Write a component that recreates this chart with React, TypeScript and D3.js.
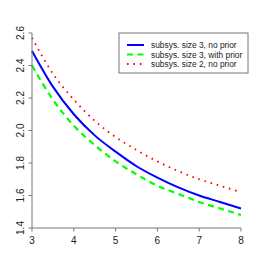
import React from "react";
import * as d3 from "d3";

const xs = [3, 3.5, 4, 4.5, 5, 5.5, 6, 6.5, 7, 7.5, 8];
const blueVals = [2.49, 2.27, 2.10, 1.97, 1.87, 1.78, 1.71, 1.65, 1.60, 1.56, 1.52];
const greenVals = [2.40, 2.19, 2.03, 1.91, 1.81, 1.73, 1.66, 1.61, 1.56, 1.52, 1.48];
const redVals = [2.57, 2.35, 2.19, 2.06, 1.96, 1.88, 1.81, 1.75, 1.70, 1.66, 1.62];
const xTicks = [3, 4, 5, 6, 7, 8];
const yTicks = [1.4, 1.6, 1.8, 2.0, 2.2, 2.4, 2.6];
const seriesNames = ["subsys. size 3, no prior", "subsys. size 3, with prior", "subsys. size 2, no prior"];

export default function App() {
  const W = 266, H = 268;
  const x = d3.scaleLinear().domain([3, 8]).range([32, 241]);
  const y = d3.scaleLinear().domain([1.4, 2.6]).range([228, 33]);
  const line = d3.line<number>().x((_, i) => x(xs[i])).y((v) => y(v)).curve(d3.curveMonotoneX);
  const series = [
    { vals: blueVals, color: "#0000FF", dash: undefined as string | undefined, w: 2 },
    { vals: greenVals, color: "#00FF00", dash: "6,4.5", w: 2.2 },
    { vals: redVals, color: "#FF0000", dash: "1.6,4.8", w: 1.8 },
  ];
  const axisColor = "#777";
  const font = "Liberation Sans, Arial, sans-serif";
  return (
    <svg width={W} height={H} style={{ position: "absolute", left: 0, top: 0, background: "#fff" }}>
      {series.map((s, i) => (
        <path key={i} d={line(s.vals) || ""} fill="none" stroke={s.color} strokeWidth={s.w} strokeDasharray={s.dash} />
      ))}
      {/* x axis */}
      <line x1={x(3)} x2={x(8)} y1={228} y2={228} stroke={axisColor} />
      {xTicks.map((t) => (
        <g key={t}>
          <line x1={x(t)} x2={x(t)} y1={228} y2={231.5} stroke={axisColor} />
          <text x={x(t)} y={243.5} textAnchor="middle" fontSize={10} fontFamily={font} fill="#222">{t}</text>
        </g>
      ))}
      {/* y axis */}
      <line x1={32} x2={32} y1={y(1.4)} y2={y(2.6)} stroke={axisColor} />
      {yTicks.map((t) => (
        <g key={t}>
          <line x1={28.5} x2={32} y1={y(t)} y2={y(t)} stroke={axisColor} />
          <text transform={`translate(23.8,${y(t)}) rotate(-90)`} textAnchor="middle" fontSize={10} fontFamily={font} fill="#222">{t.toFixed(1)}</text>
        </g>
      ))}
      {/* legend */}
      <rect x={119} y={33} width={129} height={40} fill="#fff" stroke={axisColor} />
      {series.map((s, i) => (
        <g key={i}>
          <line x1={127} x2={144} y1={45 + i * 9.5} y2={45 + i * 9.5} stroke={s.color} strokeWidth={s.w} strokeDasharray={s.dash} />
          <text x={151} y={48.2 + i * 9.5} fontSize={8.4} fontFamily={font} fill="#222">{seriesNames[i]}</text>
        </g>
      ))}
    </svg>
  );
}
